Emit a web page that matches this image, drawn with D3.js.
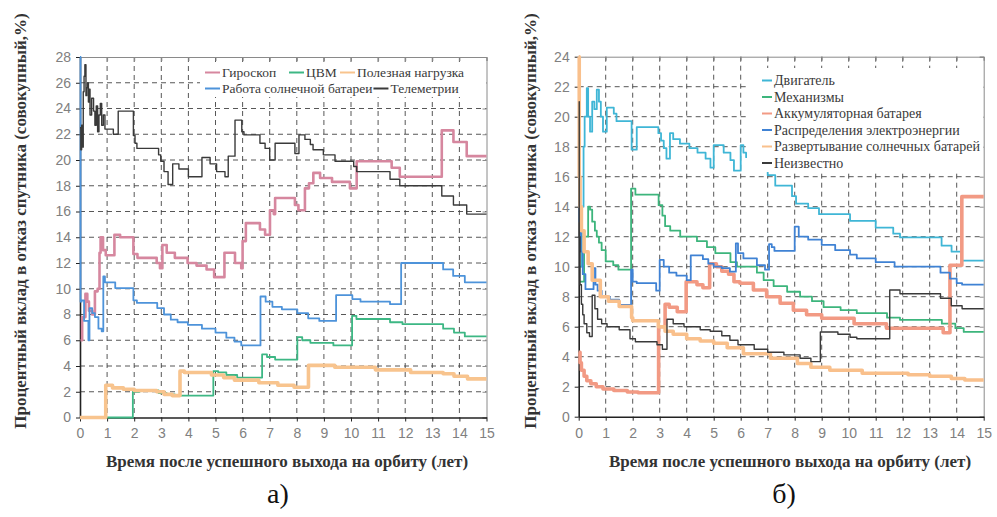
<!DOCTYPE html>
<html>
<head>
<meta charset="utf-8">
<script src="https://cdn.jsdelivr.net/npm/d3@7"></script>
<style>
  html, body { margin: 0; padding: 0; background: #fff; }
  svg { display: block; }
</style>
</head>
<body>
<svg id="chart" width="997" height="517"></svg>
<script>
// ---- shared ticks ----
const xTicks = [0, 1, 2, 3, 4, 5, 6, 7, 8, 9, 10, 11, 12, 13, 14, 15];
const leftYTicks = [0, 2, 4, 6, 8, 10, 12, 14, 16, 18, 20, 22, 24, 26, 28];
const rightYTicks = [0, 2, 4, 6, 8, 10, 12, 14, 16, 18, 20, 22, 24];

const xTitle = 'Время после успешного выхода на орбиту (лет)';
const yTitle = 'Процентный вклад в отказ спутника (совокупный,%)';

// ---- panel a) : [years, percent], step-after ----
const gyroSteps = [[0.02,6],[0.08,7.8],[0.2,9.6],[0.27,9.0],[0.33,8.3],[0.45,8.0],[0.55,9.8],[0.65,10.0],[0.72,12.8],
  [0.76,14.0],[0.85,13.0],[0.95,12.6],[1.27,14.2],[1.48,14.0],[1.97,12.7],[2.12,12.4],[2.83,12.0],[2.95,11.6],[3.04,13.4],
  [3.2,12.8],[3.5,12.4],[3.97,12.0],[4.3,11.8],[4.67,11.5],[4.95,10.9],[5.33,12.8],[5.72,12.0],[5.95,11.6],[6.0,13.7],
  [6.12,15.1],[6.64,14.6],[6.83,14.2],[7.01,16.1],[7.15,15.8],[7.2,17.05],[7.93,16.5],[8.06,16.1],[8.3,17.8],[8.45,18.2],
  [8.61,19.0],[8.86,18.6],[9.3,18.3],[9.96,17.8],[10.21,19.9],[11.5,19.4],[11.8,18.7],[13.35,22.3],[13.78,21.4],[14.27,20.3],[15,20.3]];

const cvmSteps = [[0.9,0],[1.95,2.0],[2.2,2.1],[2.9,1.9],[3.2,1.8],[3.5,1.7],[4.92,3.6],[5.1,3.5],[5.4,3.3],[5.8,3.1],
  [6.72,4.9],[6.9,4.7],[7.2,4.5],[8.02,6.25],[8.2,6.0],[8.5,5.8],[9.35,5.6],[10.04,7.9],[10.2,7.65],[11.44,7.4],
  [11.9,7.25],[13.4,6.9],[13.8,6.6],[14.2,6.3],[15,6.3]];

const payloadSteps = [[0,0],[0.95,2.5],[1.2,2.3],[1.6,2.2],[2.0,2.1],[2.83,2.0],[3.1,1.8],[3.4,1.7],[3.69,3.6],[3.85,3.5],
  [4.85,3.3],[5.3,3.1],[5.7,2.9],[6.6,2.7],[7.3,2.5],[7.9,2.35],[8.43,4.05],[9.4,3.9],[10.9,3.7],[12.2,3.5],[13.4,3.4],
  [13.8,3.2],[14.3,3.0],[15,3.0]];

const solarSteps = [[0,28],[0.02,9.0],[0.06,9.1],[0.15,7.5],[0.31,6.0],[0.35,8.5],[0.45,8.1],[0.55,7.8],[0.68,6.9],[0.8,6.7],
  [0.86,10.95],[0.92,10.5],[1.3,10.05],[1.97,9.1],[2.1,8.9],[2.85,8.5],[3.1,8.0],[3.35,7.6],[3.6,7.4],[3.98,7.2],[4.5,6.9],
  [5.0,6.6],[5.4,6.2],[5.7,5.9],[5.95,5.6],[6.66,9.4],[6.85,9.0],[7.1,8.6],[7.45,8.4],[8.02,8.1],[8.42,7.7],[8.83,7.5],
  [9.45,9.5],[10.05,9.2],[10.35,9.0],[11.44,8.8],[11.85,12.0],[13.4,11.5],[13.77,11.0],[14.2,10.5],[15,10.5]];

const telemetrySteps = [[0,22.5],[0.03,20.8],[0.06,22.7],[0.1,21],[0.12,25.3],[0.15,26.5],[0.18,27.4],[0.22,25],[0.25,25.6],
  [0.28,26],[0.31,24.5],[0.34,25.5],[0.37,23.5],[0.43,24.8],[0.5,23.8],[0.55,22.7],[0.6,24.2],[0.65,22.2],[0.7,23.5],
  [0.75,24.4],[0.8,22.7],[0.86,23.5],[0.92,22.4],[1.23,22.0],[1.41,23.8],[1.97,21.9],[2.03,21.3],[2.1,20.9],[2.9,20.4],
  [2.98,19.9],[3.1,19.1],[3.25,18.1],[3.42,19.7],[3.65,19.3],[4.0,18.7],[4.5,20.2],[4.8,19.7],[5.04,19.1],[5.35,18.7],
  [5.47,20.3],[5.72,23.1],[5.97,22.2],[6.05,21.95],[6.64,21.3],[6.83,20.9],[7.0,20.0],[7.2,21.3],[7.93,20.5],[8.08,21.95],
  [8.3,21.6],[8.5,21.2],[8.6,20.8],[8.98,20.4],[9.41,19.9],[10.1,19.5],[10.21,19.1],[11.44,18.5],[11.8,18.0],[13.35,17.2],
  [13.78,16.5],[14.27,15.8],[15,15.8]];

// ---- panel б) ----
const engineSteps = [[0.05,10],[0.12,14],[0.18,18],[0.22,20],[0.3,21.9],[0.35,20.0],[0.42,19.0],[0.5,21.0],[0.58,20.5],
  [0.67,21.8],[0.75,21.0],[0.82,20.0],[0.9,19.0],[1.04,20.6],[1.3,20.2],[1.4,19.7],[1.96,17.8],[2.15,19.3],[2.95,18.9],
  [3.05,18.4],[3.15,17.9],[3.25,17.2],[3.38,18.9],[3.5,18.5],[3.75,18.2],[4.1,17.9],[4.4,17.6],[4.7,17.2],[4.88,16.6],
  [5.0,18.1],[5.37,17.6],[5.62,17.1],[5.75,16.4],[6.0,18.1],[6.1,17.6],[6.2,17.3],[7.0,16.1],[7.28,15.4],[7.9,14.7],
  [8.05,14.2],[8.5,13.9],[8.9,13.5],[10.05,13.05],[11.0,12.6],[11.65,12.2],[11.9,11.95],[13.44,11.4],[13.81,11.0],
  [14.19,10.4],[15,10.4]];

const mechSteps = [[0.05,9],[0.2,12],[0.35,14.0],[0.42,13.8],[0.5,13.0],[0.6,12.4],[0.67,12.0],[0.75,11.6],[0.85,11.1],
  [1.0,10.35],[1.28,10.1],[1.47,9.8],[1.94,15.2],[2.1,14.8],[2.96,14.1],[3.1,13.4],[3.2,12.7],[3.39,12.4],[3.76,12.0],
  [4.38,11.7],[4.75,11.3],[5.06,10.9],[5.62,10.3],[5.86,10.0],[6.6,9.6],[6.85,9.1],[7.22,8.7],[7.72,8.33],[8.2,8.0],
  [8.64,7.7],[9.07,7.3],[9.7,7.1],[10.3,6.9],[11.42,6.6],[11.9,6.45],[13.45,6.2],[13.95,5.9],[14.26,5.65],[15,5.65]];

const batterySteps = [[0,4.3],[0.05,3.6],[0.1,3.1],[0.2,2.7],[0.3,2.4],[0.45,2.2],[0.65,2.0],[0.9,1.85],[1.3,1.75],
  [1.8,1.65],[2.2,1.6],[2.96,6.0],[3.2,7.5],[3.35,7.3],[3.65,7.0],[3.98,9.0],[4.38,8.8],[4.6,8.6],[4.85,10.2],[5.1,10.0],
  [5.3,9.7],[5.55,9.5],[5.75,9.0],[5.97,8.9],[6.47,8.45],[6.96,8.0],[7.46,7.56],[7.95,7.1],[8.44,6.8],[9.0,6.56],
  [10.2,6.2],[11.4,5.9],[13.5,5.6],[13.75,10.1],[14.19,14.67],[15,14.67]];

const powerSteps = [[0,15.9],[0.03,13],[0.08,11],[0.15,9.5],[0.25,8.5],[0.55,9.9],[0.62,8.8],[0.7,8.4],[0.85,8.0],
  [1.15,7.8],[1.5,7.45],[1.94,9.8],[2.0,9.0],[2.15,8.9],[2.87,8.4],[3.0,10.45],[3.15,10.0],[3.35,9.6],[3.62,9.4],[4.0,9.1],
  [4.15,10.75],[4.6,10.5],[4.8,10.2],[5.0,10.0],[5.3,9.9],[5.6,9.67],[5.82,11.55],[5.9,10.9],[6.1,10.55],[6.6,10.1],
  [6.9,9.8],[7.05,11.5],[7.15,11.3],[7.25,11.05],[8.0,12.67],[8.15,12.0],[8.5,11.8],[9.0,11.45],[9.5,11.1],[10.05,10.8],
  [10.3,10.55],[11.0,10.3],[11.7,10.0],[13.4,9.6],[13.75,9.2],[14.0,8.9],[14.2,8.8],[15,8.8]];

const deploySteps = [[0,24],[0.02,16],[0.05,14],[0.1,12.4],[0.2,11],[0.35,10.2],[0.5,9.1],[0.8,8.0],[1.1,7.7],[1.5,7.35],
  [1.96,6.6],[2.0,6.4],[2.95,6.0],[3.2,5.7],[3.5,5.5],[4.0,5.2],[4.5,5.05],[5.0,4.9],[5.5,4.6],[6.1,4.2],[7.1,3.9],
  [8.1,3.55],[8.6,3.3],[9.3,3.1],[10.5,2.9],[12.2,2.8],[13.0,2.7],[13.8,2.55],[14.3,2.45],[15,2.45]];

const unknownSteps = [[0,21],[0.02,12],[0.05,8.8],[0.1,7.5],[0.15,6.8],[0.2,6.2],[0.3,5.6],[0.4,5.35],[0.5,8.1],[0.6,7.2],
  [0.7,6.5],[0.85,6.2],[1.05,6.0],[1.5,5.8],[1.9,5.2],[2.1,5.0],[2.9,4.8],[3.1,4.5],[3.27,6.5],[3.5,6.2],[3.9,6.0],
  [4.5,5.8],[4.87,5.7],[5.3,5.4],[5.6,5.1],[5.9,4.8],[6.5,4.5],[7.0,4.3],[7.6,4.12],[8.2,3.9],[8.6,3.67],[8.95,5.65],
  [9.6,5.5],[10.05,5.3],[10.3,5.2],[11.52,8.45],[11.9,8.2],[13.4,7.9],[13.8,7.4],[14.2,7.2],[15,7.2]];

const SERIF = '"Liberation Serif","Times New Roman","DejaVu Serif",serif';
const SANS = '"Liberation Sans",Arial,sans-serif';

const svg = d3.select('#chart');

const panels = [
  {
    left: 80, right: 486.5, top: 57, bottom: 417.5, yMax: 28, yTicks: leftYTicks,
    yTitleX: 20, xTitleX: 287, tag: 'а)', tagX: 278,
    legendBox: [200, 62, 286, 35], legendFont: 13.5, lineLen: 15,
    series: [
      { name: 'Гироскоп', data: gyroSteps, color: '#d6879f', width: 2.6 },
      { name: 'ЦВМ', data: cvmSteps, color: '#3db784', width: 1.8 },
      { name: 'Полезная нагрузка', data: payloadSteps, color: '#f8c48e', width: 3.6 },
      { name: 'Работа солнечной батареи', data: solarSteps, color: '#4d93da', width: 1.8 },
      { name: 'Телеметрии', data: telemetrySteps, color: '#3a3a3a', width: 1.4 }
    ],
    // legend slots: [series index, line start x (null = right after previous text), baseline y]
    legend: [[0, 205, 77], [1, 289, 77], [2, 340, 77], [3, 205, 93], [4, null, 93]]
  },
  {
    left: 578.7, right: 983.7, top: 56.7, bottom: 416.7, yMax: 24, yTicks: rightYTicks,
    yTitleX: 530, xTitleX: 790, tag: 'б)', tagX: 784,
    legendBox: [747, 68, 236, 104], legendFont: 14, lineLen: 10,
    series: [
      { name: 'Двигатель', data: engineSteps, color: '#3fb6d6', width: 1.8 },
      { name: 'Механизмы', data: mechSteps, color: '#3db57c', width: 1.8 },
      { name: 'Аккумуляторная батарея', data: batterySteps, color: '#f29a84', width: 3.6 },
      { name: 'Распределения электроэнергии', data: powerSteps, color: '#3f82d4', width: 1.8 },
      { name: 'Развертывание солнечных батарей', data: deploySteps, color: '#f9c08c', width: 3.6 },
      { name: 'Неизвестно', data: unknownSteps, color: '#3a3a3a', width: 1.4 }
    ],
    legend: [[0, 762, 85], [1, 762, 101.5], [2, 762, 118], [3, 762, 134.5], [4, 762, 151], [5, 762, 167.5]]
  }
];

panels.forEach(drawPanel);

function drawPanel(p) {
  const x = d3.scaleLinear().domain([0, 15]).range([p.left, p.right]);
  const y = d3.scaleLinear().domain([0, p.yMax]).range([p.bottom, p.top]);
  const g = svg.append('g');

  // dashed grid
  g.append('g').selectAll('line')
    .data(xTicks.slice(1, -1))
    .join('line')
      .attr('x1', d => x(d)).attr('x2', d => x(d))
      .attr('y1', p.top).attr('y2', p.bottom)
      .attr('stroke', '#444').attr('stroke-width', 0.9).attr('stroke-dasharray', '5,4');
  g.append('g').selectAll('line')
    .data(p.yTicks.slice(1, -1))
    .join('line')
      .attr('x1', p.left).attr('x2', p.right)
      .attr('y1', d => y(d)).attr('y2', d => y(d))
      .attr('stroke', '#444').attr('stroke-width', 0.9).attr('stroke-dasharray', '5,4');

  // top / right frame with small inner ticks
  g.append('g').attr('transform', `translate(0,${p.top})`)
    .call(d3.axisTop(x).tickValues(xTicks).tickSize(-4).tickFormat(''))
    .call(ax => ax.selectAll('line,path').attr('stroke', '#8a8a8a'));
  g.append('g').attr('transform', `translate(${p.right},0)`)
    .call(d3.axisRight(y).tickValues(p.yTicks).tickSize(-4).tickFormat(''))
    .call(ax => ax.selectAll('line,path').attr('stroke', '#8a8a8a'));

  // main axes
  g.append('g').attr('transform', `translate(0,${p.bottom})`)
    .call(d3.axisBottom(x).tickValues(xTicks).tickSize(4).tickPadding(7).tickSizeOuter(0))
    .call(ax => ax.select('.domain').attr('stroke', '#222').attr('stroke-width', 1.6))
    .call(ax => ax.selectAll('.tick line').attr('stroke', '#222'))
    .call(ax => ax.selectAll('text').attr('fill', '#808080').style('font-family', SANS).style('font-size', '14px'));
  g.append('g').attr('transform', `translate(${p.left},0)`)
    .call(d3.axisLeft(y).tickValues(p.yTicks).tickSize(4).tickPadding(5).tickSizeOuter(0))
    .call(ax => ax.select('.domain').attr('stroke', '#222').attr('stroke-width', 1.6))
    .call(ax => ax.selectAll('.tick line').attr('stroke', '#222'))
    .call(ax => ax.selectAll('text').attr('fill', '#808080').style('font-family', SANS).style('font-size', '14px'));

  // series
  const line = d3.line()
    .x(d => x(d[0]))
    .y(d => y(d[1]))
    .curve(d3.curveStepAfter);

  g.append('g').selectAll('path')
    .data(p.series)
    .join('path')
      .attr('d', d => line(d.data))
      .attr('fill', 'none')
      .attr('stroke', d => d.color)
      .attr('stroke-width', d => d.width)
      .attr('stroke-linejoin', 'round');

  // legend (white box over the grid)
  const [bx, by, bw, bh] = p.legendBox;
  const lg = g.append('g');
  lg.append('rect').attr('x', bx).attr('y', by).attr('width', bw).attr('height', bh).attr('fill', '#fff');
  let lastEnd = 0;
  p.legend.forEach(([si, x0, ty]) => {
    const s = p.series[si];
    const lx = x0 == null ? lastEnd + 1 : x0;
    lg.append('line')
      .attr('x1', lx).attr('x2', lx + p.lineLen).attr('y1', ty - 4.5).attr('y2', ty - 4.5)
      .attr('stroke', s.color).attr('stroke-width', 2);
    const t = lg.append('text')
      .attr('x', lx + p.lineLen + 2).attr('y', ty)
      .attr('fill', '#3a3a3a')
      .style('font-family', SERIF).style('font-size', p.legendFont + 'px')
      .text(s.name);
    lastEnd = lx + p.lineLen + 2 + t.node().getComputedTextLength();
  });

  // axis titles
  g.append('text')
    .attr('x', p.xTitleX).attr('y', 467)
    .attr('text-anchor', 'middle')
    .attr('fill', '#333')
    .style('font-family', SERIF).style('font-size', '17px').style('font-weight', 'bold')
    .text(xTitle);
  g.append('text')
    .attr('transform', `translate(${p.yTitleX},221) rotate(-90)`)
    .attr('text-anchor', 'middle')
    .attr('dy', '0.35em')
    .attr('fill', '#333')
    .style('font-family', SERIF).style('font-size', '17px').style('font-weight', 'bold')
    .text(yTitle);

  // panel tag
  g.append('text')
    .attr('x', p.tagX).attr('y', 503)
    .attr('text-anchor', 'middle')
    .attr('fill', '#111')
    .style('font-family', SERIF).style('font-size', '28px')
    .text(p.tag);
}
</script>
</body>
</html>
